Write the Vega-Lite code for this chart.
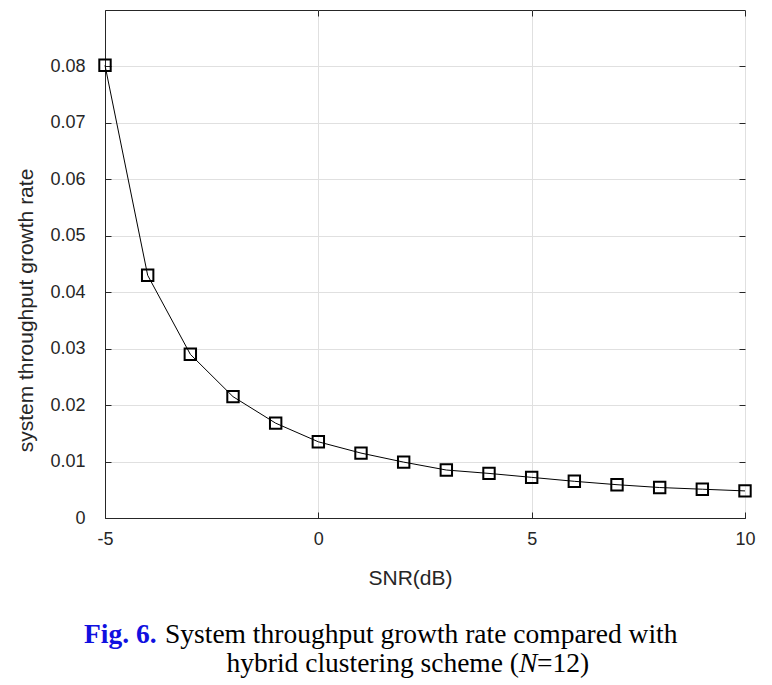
{
  "$schema": "https://vega.github.io/schema/vega-lite/v6.json",
  "width": 640,
  "height": 508,
  "autosize": {"type": "none"},
  "padding": {"left": 105, "top": 10, "right": 27, "bottom": 167},
  "background": "white",
  "config": {
    "view": {"stroke": "#262626", "strokeWidth": 1},
    "font": "Liberation Sans"
  },
  "datasets": {
    "curve": [
      {"snr": -5, "rate": 0.0802},
      {"snr": -4, "rate": 0.0430},
      {"snr": -3, "rate": 0.0290},
      {"snr": -2, "rate": 0.0215},
      {"snr": -1, "rate": 0.0168},
      {"snr": 0, "rate": 0.0135},
      {"snr": 1, "rate": 0.0115},
      {"snr": 2, "rate": 0.0099},
      {"snr": 3, "rate": 0.0085},
      {"snr": 4, "rate": 0.0079},
      {"snr": 5, "rate": 0.0072},
      {"snr": 6, "rate": 0.0065},
      {"snr": 7, "rate": 0.0059},
      {"snr": 8, "rate": 0.0054},
      {"snr": 9, "rate": 0.0051},
      {"snr": 10, "rate": 0.0048}
    ],
    "caption": [
      {"part": "fig", "text": "Fig. 6."},
      {"part": "line1", "text": "System throughput growth rate compared with"},
      {"part": "line2a", "text": "hybrid clustering scheme ("},
      {"part": "line2b", "text": "N"},
      {"part": "line2c", "text": "=12)"}
    ]
  },
  "resolve": {"axis": {"x": "independent", "y": "independent"}},
  "layer": [
    {
      "data": {"name": "curve"},
      "mark": {"type": "line", "color": "black", "strokeWidth": 1, "clip": false},
      "encoding": {
        "x": {
          "field": "snr", "type": "quantitative",
          "scale": {"domain": [-5, 10], "nice": false, "zero": false},
          "axis": {
            "values": [-5, 0, 5, 10],
            "labelExpr": "datum.value < 0 ? '-' + format(-datum.value, 'd') : format(datum.value, 'd')",
            "labelFlush": false,
            "title": "SNR(dB)",
            "titleFont": "Liberation Sans", "titleFontSize": 21, "titleFontWeight": "normal", "titleColor": "#262626",
            "titlePadding": 19,
            "titleX": 305,
            "labelFont": "Liberation Sans", "labelFontSize": 18, "labelColor": "#262626",
            "labelPadding": 18,
            "tickSize": -6, "tickColor": "#262626",
            "domainColor": "#262626",
            "grid": true, "gridColor": "#e0e0e0", "gridWidth": 1
          }
        },
        "y": {
          "field": "rate", "type": "quantitative",
          "scale": {"domain": [0, 0.09], "nice": false},
          "axis": {
            "values": [0, 0.01, 0.02, 0.03, 0.04, 0.05, 0.06, 0.07, 0.08],
            "labelExpr": "datum.value === 0 ? '0' : format(datum.value, '.2f')",
            "labelFlush": false,
            "title": "system throughput growth rate",
            "titleFont": "Liberation Sans", "titleFontSize": 21, "titleFontWeight": "normal", "titleColor": "#262626",
            "titlePadding": 13,
            "titleY": 300,
            "labelFont": "Liberation Sans", "labelFontSize": 18, "labelColor": "#262626",
            "labelPadding": 26,
            "tickSize": -6, "tickColor": "#262626",
            "domainColor": "#262626",
            "grid": true, "gridColor": "#e0e0e0", "gridWidth": 1
          }
        }
      }
    },
    {
      "data": {"name": "curve"},
      "mark": {"type": "point", "shape": "square", "filled": false, "color": "black", "strokeWidth": 2, "size": 130, "opacity": 1, "clip": false},
      "encoding": {
        "x": {"field": "snr", "type": "quantitative", "axis": {"orient": "top", "values": [-5, 0, 5, 10], "labels": false, "title": null, "grid": false, "domain": false, "tickSize": -6, "tickColor": "#262626"}},
        "y": {"field": "rate", "type": "quantitative", "axis": {"orient": "right", "values": [0, 0.01, 0.02, 0.03, 0.04, 0.05, 0.06, 0.07, 0.08], "labels": false, "title": null, "grid": false, "domain": false, "tickSize": -6, "tickColor": "#262626"}}
      }
    },
    {
      "data": {"name": "caption"},
      "transform": [{"filter": "datum.part === 'fig'"}],
      "mark": {"type": "text", "font": "Liberation Serif", "fontSize": 27.5, "fontWeight": "bold", "color": "#1010e0", "align": "left", "baseline": "alphabetic", "x": -21, "y": 633},
      "encoding": {"text": {"field": "text"}}
    },
    {
      "data": {"name": "caption"},
      "transform": [{"filter": "datum.part === 'line1'"}],
      "mark": {"type": "text", "font": "Liberation Serif", "fontSize": 27.5, "color": "black", "align": "left", "baseline": "alphabetic", "x": 60, "y": 633},
      "encoding": {"text": {"field": "text"}}
    },
    {
      "data": {"name": "caption"},
      "transform": [{"filter": "datum.part === 'line2a'"}],
      "mark": {"type": "text", "font": "Liberation Serif", "fontSize": 27.5, "color": "black", "align": "right", "baseline": "alphabetic", "x": 414, "y": 662},
      "encoding": {"text": {"field": "text"}}
    },
    {
      "data": {"name": "caption"},
      "transform": [{"filter": "datum.part === 'line2b'"}],
      "mark": {"type": "text", "font": "Liberation Serif", "fontSize": 27.5, "fontStyle": "italic", "color": "black", "align": "left", "baseline": "alphabetic", "x": 414, "y": 662},
      "encoding": {"text": {"field": "text"}}
    },
    {
      "data": {"name": "caption"},
      "transform": [{"filter": "datum.part === 'line2c'"}],
      "mark": {"type": "text", "font": "Liberation Serif", "fontSize": 27.5, "color": "black", "align": "left", "baseline": "alphabetic", "x": 432, "y": 662},
      "encoding": {"text": {"field": "text"}}
    }
  ]
}
